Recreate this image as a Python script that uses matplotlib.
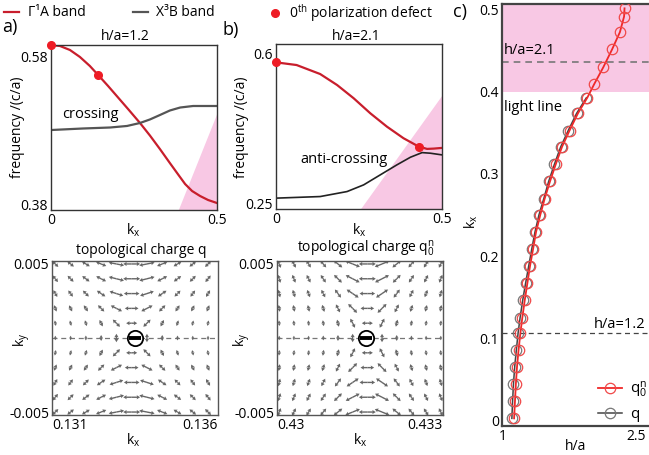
import numpy as np
import matplotlib
matplotlib.use("Agg")
import matplotlib.pyplot as plt

plt.rcParams['font.family'] = ['Open Sans', 'DejaVu Sans']
plt.rcParams['mathtext.fontset'] = 'custom'
plt.rcParams['mathtext.rm'] = 'Open Sans'
plt.rcParams['mathtext.it'] = 'Open Sans'
plt.rcParams['mathtext.default'] = 'regular'
plt.rcParams['font.size'] = 10

RED_BAND = '#c81e2c'
GREY_BAND = '#555555'
DOT_RED = '#ee1c25'
PINK = '#f8c8e4'
C_RED = '#f02828'
ARROW = '#666666'

# (a) h/a = 1.2 bands
kx_a_red = [0, 0.027, 0.057, 0.087, 0.117, 0.142, 0.172, 0.202, 0.232, 0.268,
            0.298, 0.328, 0.358, 0.383, 0.404, 0.425, 0.449, 0.473, 0.5]
f_a_red = [0.5878, 0.5865, 0.5813, 0.5722, 0.5604, 0.5486, 0.5342, 0.5192, 0.5042, 0.4859,
           0.4695, 0.4519, 0.4336, 0.4186, 0.4061, 0.3970, 0.3905, 0.3853, 0.3813]
kx_a_grey = [0, 0.096, 0.178, 0.229, 0.268, 0.298, 0.328, 0.358, 0.389, 0.428, 0.5]
f_a_grey = [0.4767, 0.4787, 0.480, 0.482, 0.4859, 0.4905, 0.4963, 0.5022, 0.5061, 0.5081, 0.5081]
kx_a_dots = [0, 0.142]
f_a_dots = [0.5878, 0.5486]
kx_a_light = [0.383, 0.5]
f_a_light = [0.3722, 0.499]

# (b) h/a = 2.1 bands
kx_b_red = [0, 0.062, 0.133, 0.184, 0.234, 0.284, 0.334, 0.384, 0.430, 0.455, 0.475, 0.5]
f_b_red = [0.5784, 0.5722, 0.5513, 0.5258, 0.495, 0.4602, 0.4292, 0.4023, 0.3828, 0.3775, 0.3782, 0.3798]
kx_b_black = [0, 0.133, 0.214, 0.264, 0.314, 0.364, 0.405, 0.44, 0.465, 0.5]
f_b_black = [0.2632, 0.2669, 0.2785, 0.294, 0.3172, 0.3404, 0.3582, 0.3689, 0.3675, 0.3636]
kx_b_dots = [0, 0.430]
f_b_dots = [0.5784, 0.3828]
kx_b_light = [0.254, 0.5]
f_b_light = [0.238, 0.5026]

# polarization orientation (deg) on the k-space grids, rows top to bottom
psi_q = [
    [-45, -39, -31, -22, -11, 0, 11, 22, 31, 39, 45],
    [-51, -45, -37, -27, -14, 0, 14, 27, 37, 45, 51],
    [-59, -53, -45, -34, -18, 0, 18, 34, 45, 53, 59],
    [-68, -63, -56, -45, -27, 0, 27, 45, 56, 63, 68],
    [-79, -76, -72, -63, -45, 0, 45, 63, 72, 76, 79],
    [90, 90, 90, 90, 90, np.nan, 90, 90, 90, 90, 90],
    [79, 76, 72, 63, 45, 0, -45, -63, -72, -76, -79],
    [68, 63, 56, 45, 27, 0, -27, -45, -56, -63, -68],
    [59, 53, 45, 34, 18, 0, -18, -34, -45, -53, -59],
    [51, 45, 37, 27, 14, 0, -14, -27, -37, -45, -51],
    [45, 39, 31, 22, 11, 0, -11, -22, -31, -39, -45],
]
psi_q0n = [
    [-67, -63, -58, -50, -39, -22, 0, 22, 39, 50, 58, 63],
    [-72, -68, -63, -56, -45, -27, 0, 27, 45, 56, 63, 68],
    [-76, -73, -69, -63, -53, -34, 0, 34, 53, 63, 69, 73],
    [-81, -79, -76, -72, -63, -45, 0, 45, 63, 72, 76, 79],
    [-85, -84, -83, -81, -76, -63, 0, 63, 76, 81, 83, 84],
    [90, 90, 90, 90, 90, 90, np.nan, 90, 90, 90, 90, 90],
    [85, 84, 83, 81, 76, 63, 0, -63, -76, -81, -83, -84],
    [81, 79, 76, 72, 63, 45, 0, -45, -63, -72, -76, -79],
    [76, 73, 69, 63, 53, 34, 0, -34, -53, -63, -69, -73],
    [72, 68, 63, 56, 45, 27, 0, -27, -45, -56, -63, -68],
    [67, 63, 58, 50, 39, 22, 0, -22, -39, -50, -58, -63],
]
# arrow length profiles (pixels)
len_rows = [1.3, 1.3, 1.2, 1.05, 0.85, 0.7, 0.85, 1.05, 1.2, 1.3, 1.3]
len_cols_q = [6.5, 6.5, 7, 8.5, 12, 13, 12, 8.5, 7, 6.5, 6.5]
len_cols_q0n = [6.5, 6.5, 6.5, 7, 8.5, 12, 13, 12, 8.5, 7, 6.5, 6.5]
center_q = (0.1335, 0.0)
center_q0n = (0.4316, 0.0)

# (c) singularity position k_x versus slab thickness h/a
kx_q = [0.002, 0.023, 0.044, 0.065, 0.085, 0.106, 0.125, 0.146, 0.167, 0.188,
        0.209, 0.229, 0.250, 0.270, 0.291, 0.312, 0.333, 0.353, 0.374, 0.393]
ha_q = [1.100, 1.108, 1.118, 1.132, 1.150, 1.170, 1.193, 1.222, 1.255, 1.290,
        1.325, 1.360, 1.405, 1.460, 1.515, 1.580, 1.650, 1.735, 1.830, 1.940]
kx_q0n = [0.002, 0.023, 0.044, 0.065, 0.085, 0.106, 0.125, 0.146, 0.167, 0.188,
          0.209, 0.229, 0.250, 0.270, 0.291, 0.312, 0.333, 0.353, 0.374, 0.393,
          0.410, 0.430, 0.452, 0.473, 0.492, 0.502]
ha_q0n = [1.125, 1.135, 1.145, 1.158, 1.175, 1.196, 1.218, 1.245, 1.275, 1.305,
          1.340, 1.372, 1.420, 1.470, 1.530, 1.595, 1.665, 1.750, 1.845, 1.950,
          2.030, 2.130, 2.230, 2.318, 2.365, 2.370]
kx_light = 0.4
kx_h12 = 0.106
kx_h21 = 0.436

W, H = 649, 455
fig = plt.figure(figsize=(W / 100, H / 100), dpi=100)


def place(left, top, right, bottom):
    return fig.add_axes([left / W, 1 - bottom / H, (right - left) / W, (bottom - top) / H])


def ftext(x, y, s, **kw):
    kw.setdefault('ha', 'center')
    kw.setdefault('va', 'center')
    return fig.text(x / W, 1 - y / H, s, **kw)


def frame(ax, color='#333333', lw=1.0):
    ax.tick_params(length=0, pad=2, labelsize=10)
    for sp in ax.spines.values():
        sp.set_color(color)
        sp.set_linewidth(lw)


def band_axes(ax, ylim, yticks):
    ax.set_xlim(0, 0.5)
    ax.set_ylim(*ylim)
    ax.set_xticks([0, 0.5], ['0', '0.5'])
    ax.set_yticks(yticks, [f'{t:g}' for t in yticks])
    frame(ax)


def draw_field(ax, kx_s, ky_s, psi, cols, center):
    X, Y = np.meshgrid(kx_s, ky_s)
    psi = np.asarray(psi, float)
    L = np.outer(len_rows, cols) / 2
    ok = ~np.isnan(psi)
    for turn in (0, 180):
        ax.quiver(X[ok], Y[ok], L[ok], np.zeros(ok.sum()), angles=psi[ok] + turn,
                  scale_units='dots', scale=1, units='dots', width=1.4,
                  headwidth=3, headlength=2.5, headaxislength=2.2,
                  pivot='tail', color=ARROW, zorder=2)
    ax.axhline(0, ls=(0, (4, 3)), color='#777777', lw=0.9, zorder=1)
    ax.plot(*center, 'o', ms=11, mfc='white', mec='black', mew=1.3, zorder=4)
    ax.plot(*center, '_', ms=9, color='black', mew=2.8, zorder=5)


# ---- (a) band structure, h/a = 1.2
ax_a = place(51, 45, 217, 210)
ax_a.fill_between(kx_a_light, f_a_light, 0.3, color=PINK, lw=0, zorder=0)
l_red, = ax_a.plot(kx_a_red, f_a_red, color=RED_BAND, lw=1.6)
l_grey, = ax_a.plot(kx_a_grey, f_a_grey, color=GREY_BAND, lw=1.6)
dot, = ax_a.plot(kx_a_dots, f_a_dots, 'o', color=DOT_RED, ms=5.5, clip_on=False, zorder=5)
band_axes(ax_a, (0.3722, 0.5878), [0.38, 0.58])
ax_a.get_yticklabels()[1].set_va('top')
ax_a.text(0.12, 0.497, 'crossing', ha='center', va='center', fontsize=10.5)

# ---- (b) band structure, h/a = 2.1
ax_b = place(276, 44, 442, 209)
ax_b.fill_between(kx_b_light, f_b_light, 0.1, color=PINK, lw=0, zorder=0)
ax_b.plot(kx_b_red, f_b_red, color=RED_BAND, lw=1.6)
ax_b.plot(kx_b_black, f_b_black, color='#222222', lw=1.2)
ax_b.plot(kx_b_dots, f_b_dots, 'o', color=DOT_RED, ms=5.5, clip_on=False, zorder=5)
band_axes(ax_b, (0.238, 0.621), [0.25, 0.6])
ax_b.text(0.205, 0.353, 'anti-crossing', ha='center', va='center', fontsize=10.5)

for x in (18, 241):
    ftext(x, 127, 'frequency /(c/a)', rotation=90, fontsize=10)
ftext(133, 230, 'k$_x$')
ftext(359, 230, 'k$_x$')
ftext(125, 37, 'h/a=1.2')
ftext(356, 37, 'h/a=2.1')
ftext(2, 27, 'a)', ha='left', fontsize=13)
ftext(222, 30, 'b)', ha='left', fontsize=13)

fig.legend([l_red, l_grey], ['Γ¹A band', 'X³B band'], loc='center left',
           bbox_to_anchor=(4 / W, 1 - 13 / H), ncol=2, frameon=False, fontsize=10,
           handlelength=1.1, handletextpad=0.6, columnspacing=3.4,
           borderpad=0, borderaxespad=0)
fig.legend([dot], ['0$^{th}$ polarization defect'], loc='center left',
           bbox_to_anchor=(268 / W, 1 - 13 / H), frameon=False, fontsize=10,
           handlelength=1.0, handletextpad=0.5, borderpad=0, borderaxespad=0)

# ---- polarization fields around the defects
ax_qa = place(52, 261, 218, 415)
draw_field(ax_qa, np.linspace(0.1311, 0.1357, 11), np.linspace(0.005, -0.005, 11),
           psi_q, len_cols_q, center_q)
ax_qa.set_xlim(0.131, 0.136)
ax_qa.set_ylim(-0.0052, 0.0052)
ax_qa.set_xticks([0.131, 0.136], ['0.131', '0.136'])
ax_qa.set_yticks([0.005, -0.005], ['0.005', '-0.005'])
frame(ax_qa, '#555555')
ax_qa.get_xticklabels()[0].set_ha('left')
ax_qa.get_xticklabels()[1].set_ha('right')

ax_qb = place(277, 261, 443, 415)
draw_field(ax_qb, np.linspace(0.43004, 0.43296, 12), np.linspace(0.005, -0.005, 11),
           psi_q0n, len_cols_q0n, center_q0n)
ax_qb.set_xlim(0.43, 0.433)
ax_qb.set_ylim(-0.0052, 0.0052)
ax_qb.set_xticks([0.43, 0.433], ['0.43', '0.433'])
ax_qb.set_yticks([0.005, -0.005], ['0.005', '-0.005'])
frame(ax_qb, '#555555')
ax_qb.get_xticklabels()[0].set_ha('left')
ax_qb.get_xticklabels()[1].set_ha('right')

ftext(141, 251, 'topological charge q')
ftext(366, 249, 'topological charge q$_0^n$')
ftext(22, 340, 'k$_y$', rotation=90)
ftext(242, 340, 'k$_y$', rotation=90)
ftext(133, 440, 'k$_x$')
ftext(360, 440, 'k$_x$')

# ---- (c) defect position versus thickness
ax_c = place(502, 4, 660, 426)
ax_c.axhspan(kx_light, 0.52, color=PINK, lw=0, zorder=0)
ax_c.axhline(kx_h21, ls=(0, (4, 3)), color='#777777', lw=1.2, zorder=1)
ax_c.axhline(kx_h12, ls=(0, (4, 3)), color='#444444', lw=0.9, zorder=1)
c_q, = ax_c.plot(ha_q, kx_q, '-o', color='#444444', lw=1.1, ms=7.5,
                 mfc='none', mec='#777777', mew=0.9, zorder=3)
c_q0n, = ax_c.plot(ha_q0n, kx_q0n, '-o', color=C_RED, lw=1.3, ms=7.5,
                   mfc='none', mec='#f04848', mew=0.9, zorder=4)
ax_c.set_xlim(0.9887, 2.770)
ax_c.set_ylim(-0.0073, 0.5073)
ax_c.set_xticks([1, 2.5], ['1', '2.5'])
ax_c.set_yticks([0, 0.1, 0.2, 0.3, 0.4, 0.5], ['0', '0.1', '0.2', '0.3', '0.4', '0.5'])
frame(ax_c, '#444444', 1.6)
ax_c.spines['right'].set_visible(False)
ax_c.text(1.01, kx_h21 + 0.006, 'h/a=2.1', ha='left', va='bottom', fontsize=10.5)
ax_c.text(1.01, kx_light - 0.01, 'light line', ha='left', va='top', fontsize=10.5)
ftext(645, 324, 'h/a=1.2', ha='right', fontsize=10.5)
ftext(453, 12, 'c)', ha='left', fontsize=13)
ftext(471, 222, 'k$_x$', rotation=90)
ftext(576, 447, 'h/a')
fig.legend([c_q0n, c_q], ['q$_0^n$', 'q'], loc='upper left',
           bbox_to_anchor=(598 / W, 1 - 380 / H), frameon=False, fontsize=11,
           handlelength=1.6, handletextpad=0.5, labelspacing=0.45,
           borderpad=0, borderaxespad=0)

fig.savefig('out.png', dpi=100)
